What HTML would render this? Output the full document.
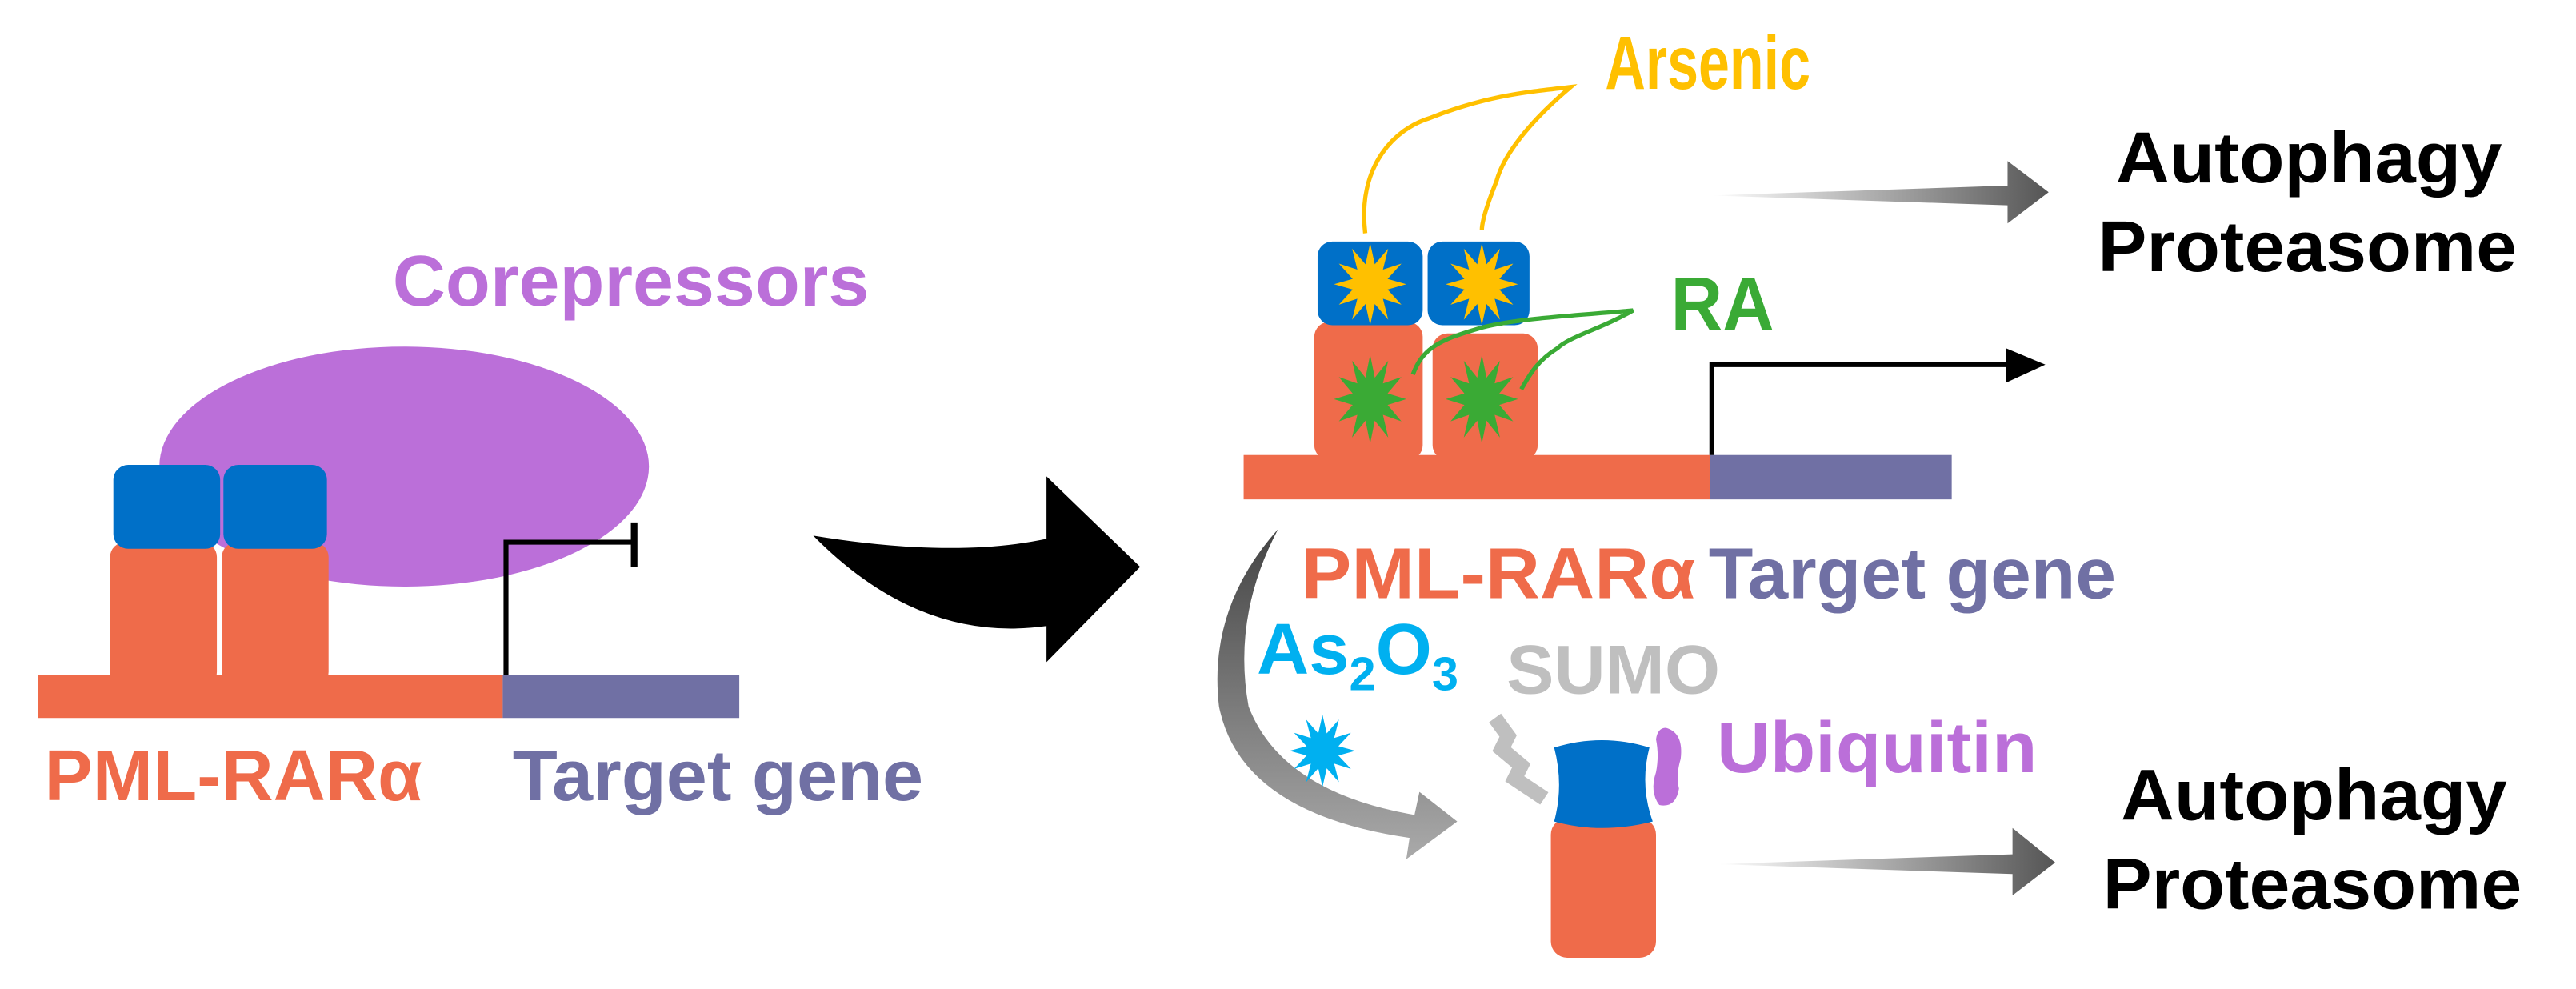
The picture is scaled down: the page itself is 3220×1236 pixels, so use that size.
<!DOCTYPE html>
<html><head><meta charset="utf-8"><style>
html,body{margin:0;padding:0;background:#fff;}
svg{display:block;}
text{font-family:"Liberation Sans",Arial,sans-serif;font-weight:bold;}
</style></head><body>
<svg width="3220" height="1236" viewBox="0 0 1568 602" preserveAspectRatio="none" xmlns="http://www.w3.org/2000/svg">
<defs>
<polygon id="star" points="1,0 .483,.129 .866,.5 .354,.354 .5,.866 .129,.483 0,1 -.129,.483 -.5,.866 -.354,.354 -.866,.5 -.483,.129 -1,0 -.483,-.129 -.866,-.5 -.354,-.354 -.5,-.866 -.129,-.483 0,-1 .129,-.483 .5,-.866 .354,-.354 .866,-.5 .483,-.129"/>
<linearGradient id="ga" x1="0" y1="0" x2="1" y2="0"><stop offset="0" stop-color="#fff"/><stop offset="1" stop-color="#555"/></linearGradient>
<linearGradient id="gc" x1="0" y1="0" x2="0" y2="1"><stop offset="0" stop-color="#444"/><stop offset="1" stop-color="#aaa"/></linearGradient>
</defs>
<rect width="1568" height="602" fill="#fff"/>

<!-- LEFT -->
<ellipse cx="246" cy="284" rx="149" ry="73" fill="#bb6fd9"/>
<text x="239" y="186" font-size="44" fill="#bb6fd9" textLength="290" lengthAdjust="spacingAndGlyphs">Corepressors</text>
<rect x="67" y="330" width="65" height="88" rx="9" fill="#ef6b4a"/>
<rect x="135" y="330" width="65" height="88" rx="9" fill="#ef6b4a"/>
<rect x="69" y="283" width="65" height="51" rx="9" fill="#0070c8"/>
<rect x="136" y="283" width="63" height="51" rx="9" fill="#0070c8"/>
<rect x="23" y="411" width="283" height="26" fill="#ef6b4a"/>
<rect x="306" y="411" width="144" height="26" fill="#7070a4"/>
<polyline points="308,411 308,330 386,330" fill="none" stroke="#000" stroke-width="3"/>
<line x1="386" y1="318" x2="386" y2="345" stroke="#000" stroke-width="4"/>
<text x="27" y="487" font-size="44" fill="#ef6b4a" textLength="230" lengthAdjust="spacingAndGlyphs">PML-RARα</text>
<text x="312" y="487" font-size="44" fill="#7070a4" textLength="250" lengthAdjust="spacingAndGlyphs">Target gene</text>

<!-- big black arrow -->
<path d="M495,326 Q580,340 637,328 L637,290 L694,345 L637,403 L637,381 Q560,392 495,326 Z" fill="#000"/>

<!-- RIGHT TOP -->
<path d="M831,142 C826,100 850,78 870,72 C905,58 930,56 956,53 C930,75 915,95 911,110 C905,125 902,135 902,140" fill="none" stroke="#ffc000" stroke-width="2.6"/>
<rect x="800" y="196" width="66" height="84" rx="9" fill="#ef6b4a"/>
<rect x="872" y="203" width="64" height="77" rx="9" fill="#ef6b4a"/>
<rect x="802" y="147" width="64" height="51" rx="9" fill="#0070c8"/>
<rect x="869" y="147" width="62" height="51" rx="9" fill="#0070c8"/>
<use href="#star" transform="translate(834,173) scale(22,25)" fill="#ffc000"/>
<use href="#star" transform="translate(902,173) scale(22,25)" fill="#ffc000"/>
<use href="#star" transform="translate(834,243) scale(22,27)" fill="#3aaa35"/>
<use href="#star" transform="translate(902,243) scale(22,27)" fill="#3aaa35"/>
<path d="M860,228 C866,212 876,207 900,200 C920,194 960,192 994,189 C975,200 955,205 948,212 C935,220 930,230 926,237" fill="none" stroke="#3aaa35" stroke-width="2.6"/>
<text x="977" y="54" font-size="46" fill="#ffc000" textLength="125" lengthAdjust="spacingAndGlyphs">Arsenic</text>
<text x="1017" y="201" font-size="46" fill="#3aaa35" textLength="63" lengthAdjust="spacingAndGlyphs">RA</text>
<rect x="757" y="277" width="284" height="27" fill="#ef6b4a"/>
<rect x="1041" y="277" width="147" height="27" fill="#7070a4"/>
<polyline points="1042,277 1042,222 1225,222" fill="none" stroke="#000" stroke-width="3"/>
<polygon points="1221,212 1245,222 1221,233" fill="#000"/>
<polygon points="1042,119 1222,113 1222,98 1247,117 1222,136 1222,125" fill="url(#ga)"/>
<text x="1288" y="111" font-size="44" fill="#000" textLength="235" lengthAdjust="spacingAndGlyphs">Autophagy</text>
<text x="1277" y="165" font-size="44" fill="#000" textLength="255" lengthAdjust="spacingAndGlyphs">Proteasome</text>
<text x="792" y="364" font-size="44" fill="#ef6b4a" textLength="240" lengthAdjust="spacingAndGlyphs">PML-RARα</text>
<text x="1040" y="364" font-size="44" fill="#7070a4" textLength="248" lengthAdjust="spacingAndGlyphs">Target gene</text>

<!-- RIGHT BOTTOM -->
<path d="M778,322 Q735,370 742,430 Q755,495 858,510 L856,523 L887,500 L864,482 L861,496 Q780,482 760,430 Q750,375 778,322 Z" fill="url(#gc)"/>
<text x="765" y="410" font-size="44" fill="#00b0f0">As<tspan font-size="29" dy="10">2</tspan><tspan dy="-10">O</tspan><tspan font-size="29" dy="10">3</tspan></text>
<use href="#star" transform="translate(805,457) scale(20,22)" fill="#00b0f0"/>
<text x="917" y="422" font-size="42" fill="#bfbfbf" textLength="130" lengthAdjust="spacingAndGlyphs">SUMO</text>
<polyline points="910,437 918,448 914,456 926,466 922,474 940,486" fill="none" stroke="#bfbfbf" stroke-width="9" stroke-linejoin="miter"/>
<rect x="944" y="498" width="64" height="85" rx="10" fill="#ef6b4a"/>
<path d="M946,455 Q975,446 1004,455 Q998,478 1006,500 Q975,508 946,500 Q952,478 946,455 Z" fill="#0070c8"/>
<path d="M1014,443 Q1025,446 1023,462 Q1020,472 1022,480 Q1020,492 1010,490 Q1004,482 1008,470 Q1010,460 1008,450 Q1009,443 1014,443 Z" fill="#bb6fd9"/>
<text x="1045" y="470" font-size="44" fill="#bb6fd9" textLength="195" lengthAdjust="spacingAndGlyphs">Ubiquitin</text>
<polygon points="1045,526 1225,520 1225,504 1251,525 1225,545 1225,532" fill="url(#ga)"/>
<text x="1291" y="499" font-size="44" fill="#000" textLength="235" lengthAdjust="spacingAndGlyphs">Autophagy</text>
<text x="1280" y="553" font-size="44" fill="#000" textLength="255" lengthAdjust="spacingAndGlyphs">Proteasome</text>
</svg>
</body></html>
